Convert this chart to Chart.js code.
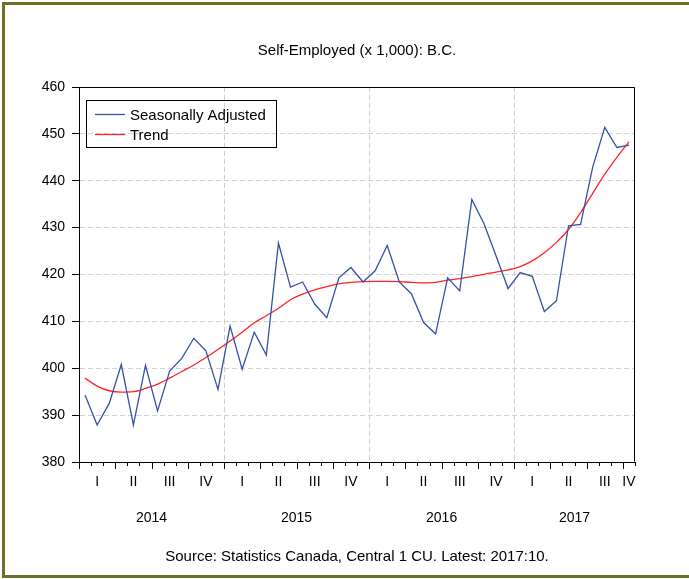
<!DOCTYPE html>
<html>
<head>
<meta charset="utf-8">
<script src="https://cdn.jsdelivr.net/npm/chart.js@4.4.1/dist/chart.umd.min.js"></script>
<style>
html,body{margin:0;padding:0;background:#fff;}
#wrap{width:689px;height:579px;position:relative;}
canvas{display:block;}
</style>
</head>
<body>
<div id="wrap"><canvas id="c" width="689" height="579"></canvas></div>
<script>
// ---- data ----
const months = [
 '2014:01','2014:02','2014:03','2014:04','2014:05','2014:06','2014:07','2014:08','2014:09','2014:10','2014:11','2014:12',
 '2015:01','2015:02','2015:03','2015:04','2015:05','2015:06','2015:07','2015:08','2015:09','2015:10','2015:11','2015:12',
 '2016:01','2016:02','2016:03','2016:04','2016:05','2016:06','2016:07','2016:08','2016:09','2016:10','2016:11','2016:12',
 '2017:01','2017:02','2017:03','2017:04','2017:05','2017:06','2017:07','2017:08','2017:09','2017:10'
];
const seasonallyAdjusted = [
 394.3, 387.9, 392.5, 400.8, 387.9, 400.6, 390.9, 399.4, 402.1, 406.4, 403.7, 395.5,
 409.0, 399.8, 407.7, 402.8, 426.7, 417.3, 418.4, 413.7, 410.8, 419.3, 421.5, 418.4,
 420.8, 426.2, 418.4, 415.9, 409.8, 407.3, 419.3, 416.5, 436.0, 430.9, 424.0, 417.0,
 420.4, 419.6, 412.1, 414.4, 430.4, 430.7, 442.9, 451.4, 447.1, 447.6
];
const trend = [
 397.9, 396.2, 395.2, 394.9, 395.0, 395.7, 396.6, 397.9, 399.3, 400.7, 402.3, 404.0,
 405.8, 407.7, 409.7, 411.2, 412.8, 414.6, 415.8, 416.7, 417.4, 418.0, 418.3, 418.5,
 418.55, 418.55, 418.5, 418.3, 418.2, 418.3, 418.8, 419.1, 419.55, 420.05, 420.5, 421.0,
 421.7, 422.9, 424.65, 426.85, 429.6, 433.2, 437.3, 441.4, 445.0, 448.3
];
const quarterNames = ['I','II','III','IV'];
const years = ['2014','2015','2016','2017'];
const seriesNames = ['Seasonally Adjusted','Trend'];
const titleText = 'Self-Employed (x 1,000): B.C.';
const sourceText = 'Source: Statistics Canada, Central 1 CU. Latest: 2017:10.';
const yTicks = {min:380, max:460, step:10};

const FONT = '"Liberation Sans", Arial, sans-serif';
const N = months.length;

function quarterLabel(i){
  const y = Math.floor(i/12), m = i%12, q = Math.floor(m/3);
  const qs = y*12 + q*3, qe = Math.min(qs+2, N-1);
  return i === Math.floor((qs+qe)/2) ? quarterNames[q] : '';
}

const decor = {
  id:'decor',
  beforeDraw(chart){
    const ctx = chart.ctx;
    ctx.save(); ctx.fillStyle='#fff'; ctx.fillRect(0,0,chart.width,chart.height); ctx.restore();
  },
  afterDraw(chart){
    const ctx = chart.ctx, a = chart.chartArea, x = chart.scales.x;
    ctx.save();
    // outer frame
    ctx.fillStyle = '#6f6f2c';
    ctx.fillRect(2,2,chart.width-2,3);
    ctx.fillRect(2,2,3,chart.height-3);
    ctx.fillRect(2,575,chart.width-2,3);
    // plot box top/right
    ctx.strokeStyle = '#000'; ctx.lineWidth = 1;
    const L = Math.round(a.left)+0.5, R = Math.round(a.right)-0.5, T = Math.round(a.top)+0.5, B = Math.round(a.bottom)-0.5;
    ctx.beginPath(); ctx.moveTo(L, T); ctx.lineTo(R, T); ctx.lineTo(R, B); ctx.stroke();
    // month tick marks
    const half = (x.getPixelForValue(1) - x.getPixelForValue(0))/2;
    ctx.beginPath();
    for(let i=0;i<=N;i++){
      const bx = i<N ? x.getPixelForValue(i)-half : x.getPixelForValue(N-1)+half;
      const len = (i%3===0) ? 7 : 4;
      const px = Math.round(bx)+0.5;
      ctx.moveTo(px, a.bottom); ctx.lineTo(px, a.bottom+len);
    }
    ctx.stroke();
    // year labels
    ctx.fillStyle = '#000';
    ctx.font = '14px ' + FONT;
    ctx.textAlign = 'center'; ctx.textBaseline = 'middle';
    years.forEach((yr, k) => {
      const s = k*12, e = Math.min(k*12+11, N-1);
      const cx = (x.getPixelForValue(s) + x.getPixelForValue(e))/2;
      ctx.fillText(yr, cx, 518);
    });
    // title & source
    const mid = (a.left + a.right)/2;
    ctx.font = '15px ' + FONT;
    ctx.fillText(titleText, mid, 51);
    ctx.fillText(sourceText, mid, 557);
    // legend
    const lx = 86.5, ly = 100.5, lw = 190, lh = 47;
    ctx.strokeStyle = '#000'; ctx.lineWidth = 1;
    ctx.strokeRect(lx, ly, lw, lh);
    ctx.textAlign = 'left';
    chart.data.datasets.forEach((ds, k) => {
      const yy = 114.5 + k*20;
      ctx.strokeStyle = ds.borderColor; ctx.lineWidth = 1.3;
      ctx.beginPath(); ctx.moveTo(95, yy); ctx.lineTo(125, yy); ctx.stroke();
      ctx.fillStyle = '#000';
      ctx.fillText(ds.label, 130, yy+1);
    });
    ctx.restore();
  }
};

new Chart(document.getElementById('c'), {
  type:'line',
  data:{
    labels: months,
    datasets:[
      {label: seriesNames[0], data: seasonallyAdjusted, borderColor:'#3551a6', borderWidth:1.3, pointRadius:0, tension:0, fill:false},
      {label: seriesNames[1], data: trend, borderColor:'#ff2424', borderWidth:1.3, pointRadius:0, cubicInterpolationMode:'monotone', fill:false}
    ]
  },
  options:{
    responsive:false, animation:false, events:[],
    layout:{padding:{left:0, top:87, right:54, bottom:0}},
    plugins:{legend:{display:false}, title:{display:false}, tooltip:{enabled:false}},
    scales:{
      x:{
        type:'category', offset:true,
        grid:{offset:true, drawTicks:false, lineWidth:1,
              color: c => (c.index !== undefined && c.index > 0 && c.index % 12 === 0) ? '#cfcfcf' : 'rgba(0,0,0,0)'},
        border:{display:true, color:'#000', width:1, dash:[5,3]},
        ticks:{autoSkip:false, maxRotation:0, minRotation:0, padding:12, color:'#000',
               font:{family:FONT, size:14}, callback:(v,i)=>quarterLabel(i)},
        afterFit: s => { s.height = 117; }
      },
      y:{
        min:yTicks.min, max:yTicks.max,
        ticks:{stepSize:yTicks.step, padding:7, color:'#000', font:{family:FONT, size:14}},
        grid:{color:'#d2d2d2', tickColor:'#000', tickLength:7, drawTicks:true, lineWidth:1},
        border:{display:true, color:'#000', width:1, dash:[5,3]},
        afterFit: s => { s.width = 79; }
      }
    }
  },
  plugins:[decor]
});
</script>
</body>
</html>
